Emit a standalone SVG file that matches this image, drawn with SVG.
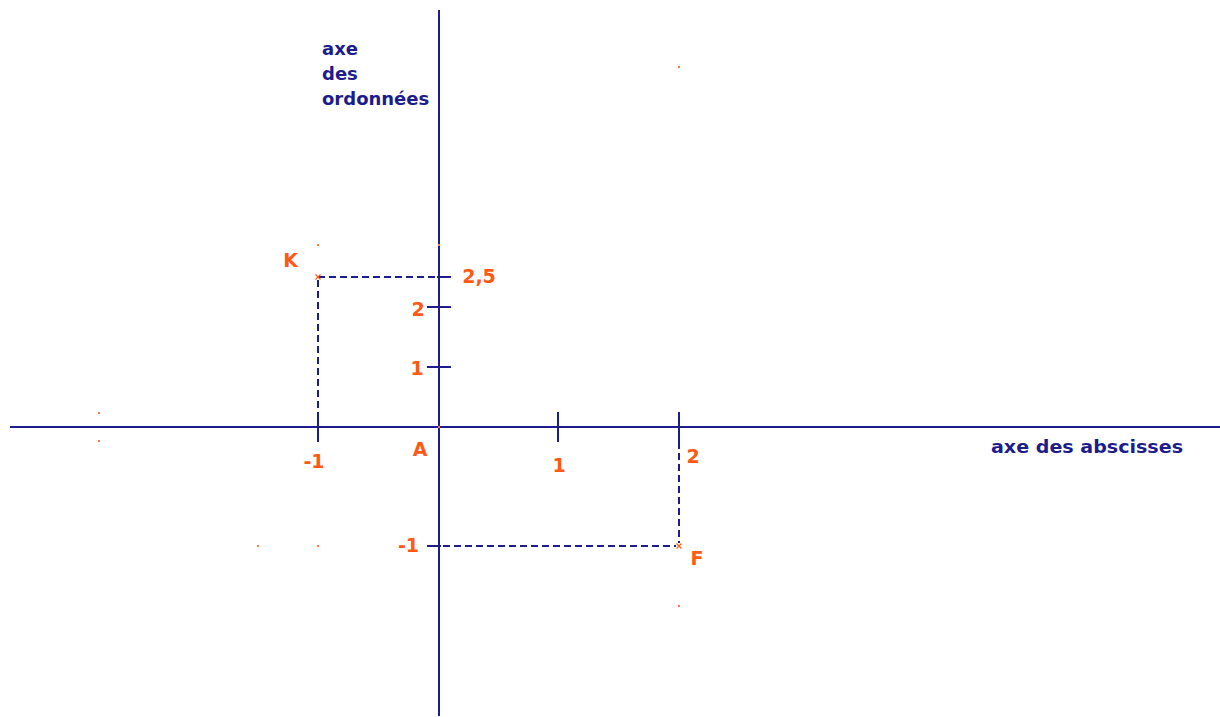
<svg xmlns="http://www.w3.org/2000/svg" width="1220" height="717" viewBox="0 0 1220 717">
<style>
.ax{stroke:#1c1c8c;stroke-width:2;fill:none}
.tk{stroke:#1c1c8c;stroke-width:2;fill:none}
.ds{stroke:#1c1c8c;stroke-width:2;fill:none;stroke-dasharray:7,4}
.lb{font-family:"DejaVu Sans",sans-serif;font-weight:bold;font-size:19px;fill:#ff5a14;text-anchor:middle}
.bl{font-family:"DejaVu Sans",sans-serif;font-weight:bold;font-size:18px;fill:#1c1c8c}
.dot{fill:#ff7a40}
.mk{stroke:#ff5a14;stroke-width:1.2;fill:none}
</style>
<rect width="1220" height="717" fill="#ffffff"/>
<g id="axes">
<line class="ax" x1="10" y1="427" x2="1220" y2="427"/>
<line class="ax" x1="439" y1="10" x2="439" y2="716"/>
</g>
<g id="ticks">
<line class="tk" x1="318" y1="412" x2="318" y2="442"/>
<line class="tk" x1="558" y1="412" x2="558" y2="442"/>
<line class="tk" x1="679" y1="412" x2="679" y2="442"/>
<line class="tk" x1="427" y1="307" x2="451" y2="307"/>
<line class="tk" x1="427" y1="367" x2="451" y2="367"/>
<line class="tk" x1="437" y1="277" x2="451" y2="277"/>
<line class="tk" x1="427" y1="546" x2="441" y2="546"/>
</g>
<g id="connectors">
<line class="ds" x1="318" y1="277" x2="437" y2="277"/>
<line class="ds" x1="318" y1="280" x2="318" y2="412"/>
<line class="ds" x1="679" y1="442" x2="679" y2="543"/>
<line class="ds" x1="443" y1="546" x2="676" y2="546"/>
</g>
<g id="K">
<path class="mk" d="M315.5 274.5 L320.5 279.5 M320.5 274.5 L315.5 279.5"/>
<text class="lb" x="290.5" y="267">K</text>
</g>
<g id="F">
<path class="mk" d="M676.5 543.5 L681.5 548.5 M681.5 543.5 L676.5 548.5"/>
<text class="lb" x="697" y="565">F</text>
</g>
<g id="A">
<circle class="dot" cx="439" cy="427" r="1.2"/>
<text class="lb" x="420" y="456">A</text>
</g>
<g id="labels">
<text class="lb" x="479" y="283">2,5</text>
<text class="lb" x="418" y="316">2</text>
<text class="lb" x="417" y="375">1</text>
<text class="lb" x="314" y="468">-1</text>
<text class="lb" x="559" y="472">1</text>
<text class="lb" x="693" y="463">2</text>
<text class="lb" x="408.5" y="552">-1</text>
</g>
<g id="axis-titles">
<text class="bl" x="322" y="55">axe</text>
<text class="bl" x="322" y="80">des</text>
<text class="bl" x="322" y="105">ordonnées</text>
<text class="bl" x="991" y="453" textLength="192" lengthAdjust="spacingAndGlyphs">axe des abscisses</text>
</g>
<g id="dots">
<rect class="dot" x="98" y="412" width="2" height="2"/>
<rect class="dot" x="98" y="440" width="2" height="2"/>
<rect class="dot" x="257" y="545" width="2" height="2"/>
<rect class="dot" x="317" y="545" width="2" height="2"/>
<rect class="dot" x="317" y="244" width="2" height="2"/>
<rect class="dot" x="438" y="244" width="2" height="2"/>
<rect class="dot" x="678" y="66" width="2" height="2"/>
<rect class="dot" x="678" y="605" width="2" height="2"/>
</g>
</svg>
